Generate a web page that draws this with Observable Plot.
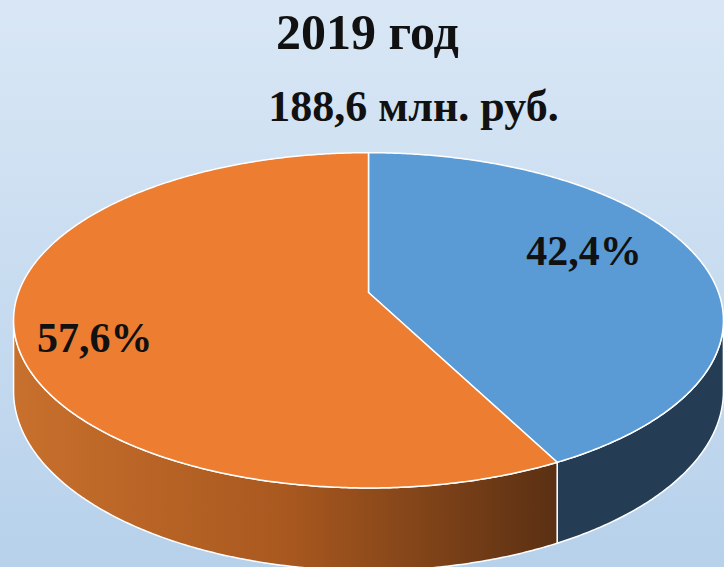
<!DOCTYPE html>
<html><head><meta charset="utf-8">
<script src="https://cdn.jsdelivr.net/npm/d3@7"></script>
<script src="https://cdn.jsdelivr.net/npm/@observablehq/plot@0.6"></script>
<style>
html,body{margin:0;padding:0;}
body{width:724px;height:567px;overflow:hidden;background:linear-gradient(#d9e7f5,#b7d1eb);}
#chart svg{display:block;}
</style></head><body><div id="chart"></div>
<script>
// ---- data ----
const title = "2019 год";
const subtitle = "188,6 млн. руб.";
const categories = ["Сегмент 1", "Сегмент 2"];
const values = [42.4, 57.6];
const labels = ["42,4%", "57,6%"];
const topColors = ["#5b9bd5", "#ed7d31"];
const sideColors = ["#243d54", "url(#orangeSide)"];

// ---- 3D pie projection (perspective) ----
const W = 724, Hh = 567;
const CX = 368, CY = 292, A = 350, B = 163, K = 0.166, DEPTH = 69;
function proj(theta, z = 0, r = 1) {
  const u = r * Math.sin(theta), v = -r * Math.cos(theta);
  const w = 1 - K * v;
  return {x: CX + A * u / w, y: CY + (B * v + DEPTH * z) / w};
}
const total = d3.sum(values);
let acc = 0;
const slices = categories.map((c, i) => {
  const a0 = acc / total * 2 * Math.PI;
  acc += values[i];
  const a1 = acc / total * 2 * Math.PI;
  return {i, category: c, value: values[i], label: labels[i], a0, a1, mid: (a0 + a1) / 2};
});
const step = Math.PI / 360;
function arc(a0, a1, z) {
  const pts = [];
  const n = Math.max(2, Math.ceil((a1 - a0) / step));
  for (let k = 0; k <= n; k++) pts.push(proj(a0 + (a1 - a0) * k / n, z));
  return pts;
}
// top faces
const tops = slices.map(s => [proj(0, 0, 0), ...arc(s.a0, s.a1, 0)].map(p => ({...p, i: s.i})));
// visible sides
const thR = Math.acos(-K), thL = 2 * Math.PI - thR;
const sides = [];
slices.forEach(s => {
  const a0 = Math.max(s.a0, thR), a1 = Math.min(s.a1, thL);
  if (a1 > a0) {
    const pts = [...arc(a0, a1, 0), ...arc(a0, a1, 1).reverse()].map(p => ({...p, i: s.i}));
    sides.push({i: s.i, pts});
  }
});
const labelPos = slices.map((s, i) => ({...proj(s.mid, 0, i === 0 ? 0.65 : 0.78), label: s.label}));

const font = "'Liberation Serif','Times New Roman',serif";
const marks = [];
sides.forEach(sd => marks.push(Plot.line(sd.pts, {x: "x", y: "y", fill: sideColors[sd.i], stroke: "white", strokeWidth: 1.5, curve: "linear-closed"})));
tops.forEach((t, i) => marks.push(Plot.line(t, {x: "x", y: "y", fill: topColors[i], stroke: "white", strokeWidth: 1.5, curve: "linear-closed"})));
marks.push(Plot.text([labelPos[0]], {x: "x", y: "y", text: "label", dy: -17, fontSize: 42, fontWeight: "bold", fontFamily: font, fill: "#111", textAnchor: "middle", lineAnchor: "middle"}));
marks.push(Plot.text([labelPos[1]], {x: "x", y: "y", text: "label", dy: 15, fontSize: 42, fontWeight: "bold", fontFamily: font, fill: "#111", textAnchor: "middle", lineAnchor: "middle"}));
marks.push(Plot.text([title], {frameAnchor: "top", text: d => d, dx: 5, dy: 32, fontSize: 50, fontWeight: "bold", fontFamily: font, fill: "#111", lineAnchor: "middle"}));
marks.push(Plot.text([subtitle], {frameAnchor: "top", text: d => d, dx: 51, dy: 106, fontSize: 44, fontWeight: "bold", fontFamily: font, fill: "#111", lineAnchor: "middle"}));

const chart = Plot.plot({
  width: W, height: Hh,
  margin: 0,
  x: {domain: [0, W], range: [0, W], axis: null},
  y: {domain: [0, Hh], range: [0, Hh], axis: null},
  style: {background: "transparent", overflow: "hidden"},
  marks
});
const svg = d3.select(chart);
const defs = svg.insert("defs", ":first-child");
const g = defs.append("linearGradient").attr("id", "orangeSide")
  .attr("gradientUnits", "userSpaceOnUse").attr("x1", 14).attr("x2", 557).attr("y1", 0).attr("y2", 0);
g.append("stop").attr("offset", 0).attr("stop-color", "#c8702d");
g.append("stop").attr("offset", 0.5).attr("stop-color", "#a9581f");
g.append("stop").attr("offset", 1).attr("stop-color", "#5a3013");
document.getElementById("chart").appendChild(chart);
</script></body></html>
